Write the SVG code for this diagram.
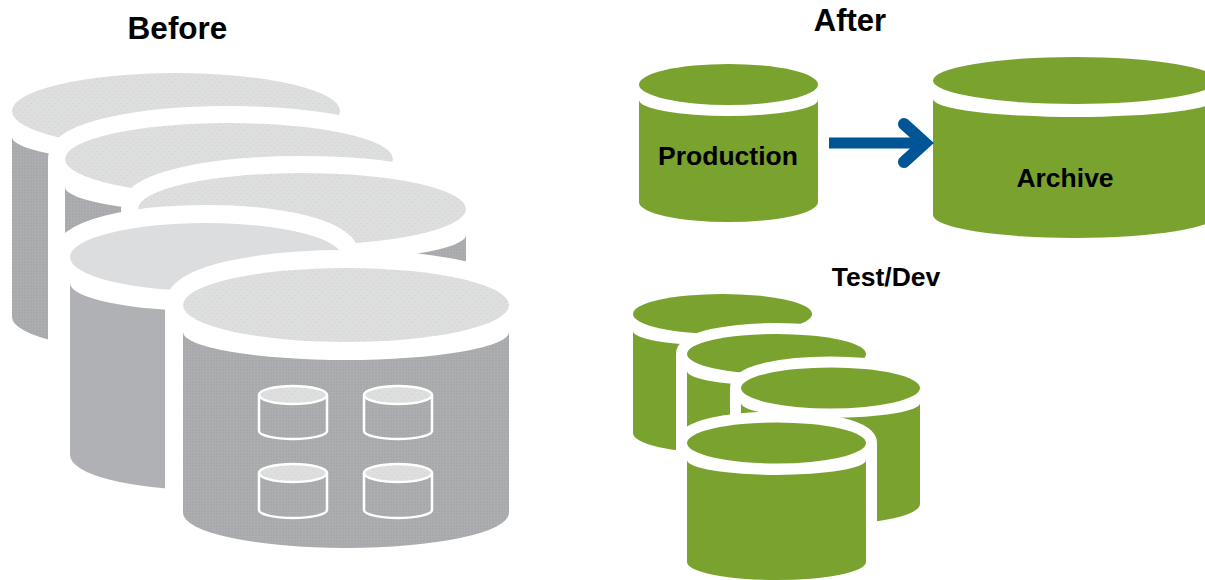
<svg xmlns="http://www.w3.org/2000/svg" width="1205" height="580" viewBox="0 0 1205 580">
<style>
.halo{fill:#fff;stroke:#fff;stroke-linejoin:round}
.h17{stroke-width:34}
.h18{stroke-width:36}
.h11{stroke-width:22}
.top{fill:url(#dotTop)}
.side{fill:url(#dotSide)}
.topf{fill:#dcddde}
.sidef{fill:#b0b1b5}
.g{fill:#7aa22f}
.mini{stroke:#fff;stroke-width:2.5}
.t{font-family:"Liberation Sans",Arial,sans-serif;font-weight:bold;fill:#000;text-anchor:middle}
</style>
<defs>
<pattern id="dotTop" width="6" height="6" patternUnits="userSpaceOnUse">
<rect width="6" height="6" fill="#dddfde"/>
<circle cx="1.500" cy="1.500" r=".6" fill="#cfd0d8"/>
<circle cx="4.500" cy="4.500" r=".6" fill="#d8d0d2"/>
</pattern>
<pattern id="dotSide" width="3" height="3" patternUnits="userSpaceOnUse">
<rect width="3" height="3" fill="#adaeb0"/>
<circle cx="1" cy="1" r=".8" fill="#a0a1a4"/>
</pattern>
</defs>
<rect width="1205" height="580" fill="#fff"/>
<g id="before-title"><text class="t" x="177.500" y="39" font-size="31.500">Before</text></g>
<g id="after-title"><text class="t" x="850" y="31" font-size="31">After</text></g>
<g id="testdev-title"><text class="t" x="886" y="286" font-size="26.500">Test/Dev</text></g>

<g id="before-1">
<path class="halo h18" d="M12 111A164 38 0 0 1 340 111V330A164 36 0 0 1 12 330Z"/>
<path class="side" d="M12 137A164 26 0 0 0 340 137V317A164 36 0 0 1 12 317Z"/>
<ellipse class="top" cx="176" cy="111" rx="164" ry="38"/>
</g>
<g id="before-2">
<path class="halo h17" d="M65 159A164 36 0 0 1 393 159V380A164 36 0 0 1 65 380Z"/>
<path class="side" d="M65 187A164 26 0 0 0 393 187V380A164 36 0 0 1 65 380Z"/>
<ellipse class="top" cx="229" cy="159" rx="164" ry="36"/>
</g>
<g id="before-3">
<path class="halo h17" d="M138 209A164 36 0 0 1 466 209V400A164 36 0 0 1 138 400Z"/>
<path class="side" d="M138 235A164 26 0 0 0 466 235V400A164 36 0 0 1 138 400Z"/>
<ellipse class="top" cx="302" cy="209" rx="164" ry="36"/>
</g>
<g id="before-4">
<path class="halo h18" d="M70 257A136 34 0 0 1 342 257V455A136 35 0 0 1 70 455Z"/>
<path class="sidef" d="M70 283A136 28 0 0 0 342 283V455A136 35 0 0 1 70 455Z"/>
<ellipse class="topf" cx="206" cy="257" rx="136" ry="34"/>
</g>
<g id="before-5">
<path class="halo h18" d="M183 305A163 37 0 0 1 509 305V513A163 35 0 0 1 183 513Z"/>
<path class="side" d="M183 332A163 28 0 0 0 509 332V513A163 35 0 0 1 183 513Z"/>
<ellipse class="top" cx="346" cy="305" rx="163" ry="37"/>
</g>
<g id="mini-1"><path class="side mini" d="M259 395V431A34 8 0 0 0 327 431V395"/><ellipse class="top mini" cx="293" cy="395" rx="34" ry="9"/></g>
<g id="mini-2"><path class="side mini" d="M364 395V431A34 8 0 0 0 432 431V395"/><ellipse class="top mini" cx="398" cy="395" rx="34" ry="9"/></g>
<g id="mini-3"><path class="side mini" d="M259 473V510A34 8 0 0 0 327 510V473"/><ellipse class="top mini" cx="293" cy="473" rx="34" ry="9"/></g>
<g id="mini-4"><path class="side mini" d="M364 473V510A34 8 0 0 0 432 510V473"/><ellipse class="top mini" cx="398" cy="473" rx="34" ry="9"/></g>

<g id="production">
<path class="g" d="M639 100A89.500 16 0 0 0 818 100V202A89.500 20 0 0 1 639 202Z"/>
<ellipse class="g" cx="728.500" cy="84.500" rx="89.500" ry="20.500"/>
<text class="t" x="728" y="165" font-size="26.500">Production</text>
</g>
<g id="archive">
<path class="g" d="M933 99A142 18 0 0 0 1217 99V215A142 23 0 0 1 933 215Z"/>
<ellipse class="g" cx="1075" cy="80.500" rx="142" ry="23.500"/>
<text class="t" x="1065" y="187" font-size="26.500">Archive</text>
</g>

<g id="dev-a">
<path class="halo h11" d="M633 314A89.500 20 0 0 1 812 314V433A89.500 20 0 0 1 633 433Z"/>
<path class="g" d="M633 331A89.500 15 0 0 0 812 331V433A89.500 20 0 0 1 633 433Z"/>
<ellipse class="g" cx="722.500" cy="314" rx="89.500" ry="20"/>
</g>
<g id="dev-b">
<path class="halo h11" d="M687 354A89.500 20 0 0 1 866 354V470A89.500 20 0 0 1 687 470Z"/>
<path class="g" d="M687 371A89.500 15 0 0 0 866 371V470A89.500 20 0 0 1 687 470Z"/>
<ellipse class="g" cx="776.500" cy="354" rx="89.500" ry="20"/>
</g>
<g id="dev-c">
<path class="halo h11" d="M741 388A89.500 20.500 0 0 1 920 388V504A89.500 20 0 0 1 741 504Z"/>
<path class="g" d="M741 403A89.500 15 0 0 0 920 403V504A89.500 20 0 0 1 741 504Z"/>
<ellipse class="g" cx="830.500" cy="388" rx="89.500" ry="20.500"/>
</g>
<g id="dev-d">
<path class="halo h11" d="M687 443A89.500 20.500 0 0 1 866 443V562A89.500 18 0 0 1 687 562Z"/>
<path class="g" d="M687 460A89.500 15 0 0 0 866 460V562A89.500 18 0 0 1 687 562Z"/>
<ellipse class="g" cx="776.500" cy="443" rx="89.500" ry="20.500"/>
</g>

<g id="connectors">
<path d="M829 143H925" fill="none" stroke="#005596" stroke-width="11"/>
<path d="M904 124L925 143L904 162" fill="none" stroke="#005596" stroke-width="12" stroke-linecap="round"/>
</g>
</svg>
